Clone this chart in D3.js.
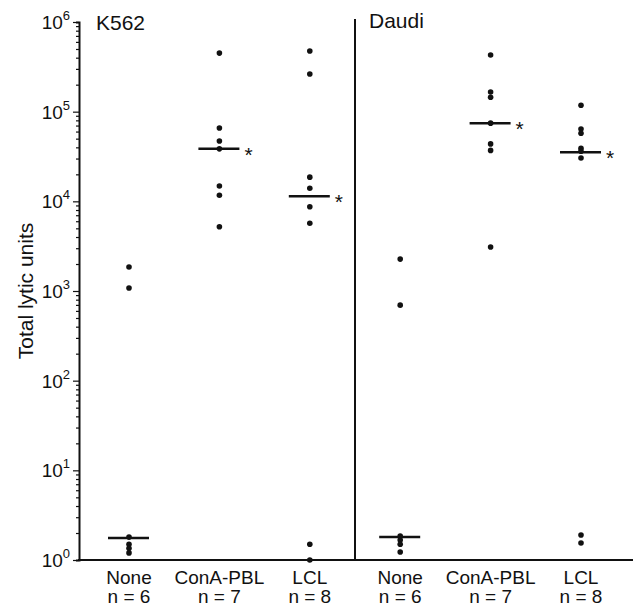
<!DOCTYPE html>
<html>
<head>
<meta charset="utf-8">
<script src="https://cdn.jsdelivr.net/npm/d3@7"></script>
<style>
  html, body { margin: 0; padding: 0; background: #fff; }
  svg text { font-family: "Liberation Sans", Arial, Helvetica, sans-serif; fill: #111; }
</style>
</head>
<body>
<svg id="chart"></svg>
<script>
// ---- data ----
const targets = ['K562', 'Daudi'];
const stimuli = ['None', 'ConA-PBL', 'LCL'];
const counts = [6, 7, 8];

const k562None = [1850, 1080, 1.8, 1.5, 1.35, 1.2];
const k562ConA = [450000, 65700, 47000, 38500, 14800, 11700, 5200];
const k562LCL = [475000, 263000, 18600, 14000, 8700, 5700, 1.5, 1.0];
const daudiNone = [2270, 695, 1.85, 1.67, 1.5, 1.23];
const daudiConA = [428000, 166000, 145000, 74500, 43700, 37000, 3100];
const daudiLCL = [118000, 64000, 57500, 39000, 36300, 30400, 1.9, 1.55];

const k562Medians = [1.76, 38500, 11400];
const daudiMedians = [1.8, 74500, 35300];
const significant = [false, true, true];

const yTickExponents = [0, 1, 2, 3, 4, 5, 6];

// build groups
const seriesByTarget = { K562: [k562None, k562ConA, k562LCL], Daudi: [daudiNone, daudiConA, daudiLCL] };
const mediansByTarget = { K562: k562Medians, Daudi: daudiMedians };
const groups = [];
targets.forEach(t => stimuli.forEach((s, i) => groups.push({
    key: t + '|' + s, target: t, stim: s, n: counts[i],
    values: seriesByTarget[t][i], median: mediansByTarget[t][i], sig: significant[i]
})));

// ---- layout ----
const W = 633, H = 607;
const svg = d3.select('#chart').attr('width', W).attr('height', H);

const x = d3.scalePoint().domain(groups.map(d => d.key)).range([129, 581]);
const y = d3.scaleLog().domain([1, 1e6]).range([560, 22]);
const axisX = 79;

// minor + major ticks on the log axis
const tickVals = [];
for (let e = 0; e < 6; e++) for (let m = 1; m < 10; m++) tickVals.push(m * Math.pow(10, e));
tickVals.push(1e6);

const yAxis = svg.append('g').attr('transform', `translate(${axisX},0)`)
    .call(d3.axisLeft(y).tickValues(tickVals).tickSize(3).tickFormat(''));
yAxis.select('.domain').attr('stroke', '#111').attr('stroke-width', 2);
yAxis.selectAll('.tick line')
    .attr('stroke', '#111').attr('stroke-width', 1.2)
    .attr('x2', d => Math.abs(Math.log10(d) % 1) < 1e-9 ? -6 : -3);

// y labels 10^k
const yLab = svg.append('g');
yTickExponents.forEach(e => {
    const t = yLab.append('text')
        .attr('x', axisX - 9).attr('y', y(Math.pow(10, e)) + 7)
        .attr('text-anchor', 'end').attr('font-size', 19);
    t.append('tspan').text('10');
    t.append('tspan').attr('dy', -9).attr('font-size', 13).text(e);
});

// x axis line and panel divider
const divX = (x(groups[2].key) + x(groups[3].key)) / 2;
svg.append('line').attr('x1', axisX - 1).attr('x2', W).attr('y1', y(1)).attr('y2', y(1))
    .attr('stroke', '#111').attr('stroke-width', 2);
svg.append('line').attr('x1', divX).attr('x2', divX).attr('y1', 19).attr('y2', y(1))
    .attr('stroke', '#111').attr('stroke-width', 2);

// panel titles
svg.append('text').attr('x', 96).attr('y', 30).attr('font-size', 21).text('K562');
svg.append('text').attr('x', divX + 14).attr('y', 28).attr('font-size', 21).text('Daudi');

// y title
svg.append('text')
    .attr('transform', `translate(33,${291}) rotate(-90)`)
    .attr('text-anchor', 'middle').attr('font-size', 21)
    .text('Total lytic units');

// groups
const g = svg.selectAll('.grp').data(groups).enter().append('g').attr('class', 'grp');

g.append('line')
    .attr('x1', d => x(d.key) - 21).attr('x2', d => x(d.key) + 20)
    .attr('y1', d => y(d.median)).attr('y2', d => y(d.median))
    .attr('stroke', '#111').attr('stroke-width', 2.5);

g.selectAll('circle').data(d => d.values.map(v => ({ key: d.key, v })))
    .enter().append('circle')
    .attr('cx', d => x(d.key)).attr('cy', d => y(d.v)).attr('r', 2.8)
    .attr('fill', '#111');

g.filter(d => d.sig).append('text')
    .attr('x', d => x(d.key) + 25).attr('y', d => y(d.median) + 13)
    .attr('font-size', 21).attr('text-anchor', 'start').text('*');

// category labels
g.append('text').attr('x', d => x(d.key)).attr('y', 584)
    .attr('text-anchor', 'middle').attr('font-size', 19).text(d => d.stim);
g.append('text').attr('x', d => x(d.key)).attr('y', 603)
    .attr('text-anchor', 'middle').attr('font-size', 19).text(d => `n = ${d.n}`);
</script>
</body>
</html>
